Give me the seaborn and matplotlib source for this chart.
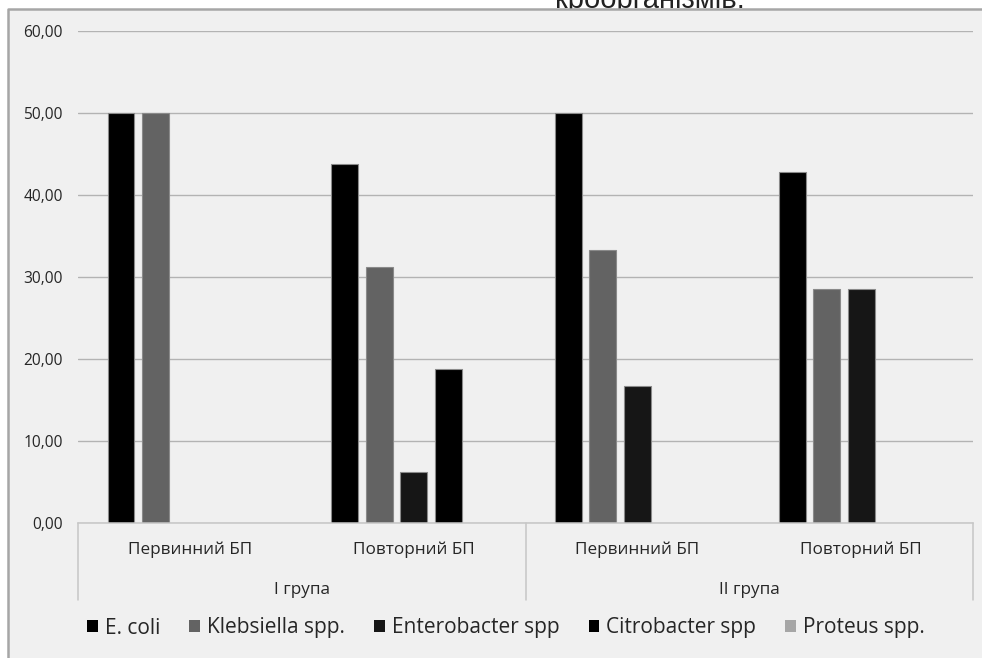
import matplotlib
matplotlib.use("Agg")
import matplotlib.pyplot as plt
import matplotlib.patches as mpatches
from matplotlib.lines import Line2D
from matplotlib.ticker import FuncFormatter, MultipleLocator
import seaborn as sns
import pandas as pd

# ---- data -------------------------------------------------------------
groups = ["I група", "II група"]
subcats = ["Первинний БП", "Повторний БП", "Первинний БП", "Повторний БП"]
slot_group = ["I група", "I група", "II група", "II група"]
series = ["E. coli", "Klebsiella spp.", "Enterobacter spp", "Citrobacter spp", "Proteus spp."]
e_coli = [50.00, 43.75, 50.00, 42.86]
klebsiella = [50.00, 31.25, 33.33, 28.57]
enterobacter = [0.00, 6.25, 16.67, 28.57]
citrobacter = [0.00, 18.75, 0.00, 0.00]
proteus = [0.00, 0.00, 0.00, 0.00]
colors = ["#000000", "#636363", "#161616", "#000000", "#a6a6a6"]

values = [e_coli, klebsiella, enterobacter, citrobacter, proteus]
slots = [f"{g} / {s}" for g, s in zip(slot_group, subcats)]
rows = []
for name, vals in zip(series, values):
    for slot, v in zip(slots, vals):
        rows.append({"slot": slot, "series": name, "value": v})
df = pd.DataFrame(rows)

# ---- figure -----------------------------------------------------------
sns.set_theme(style="white")
plt.rcParams["font.family"] = ["Open Sans", "DejaVu Sans"]
text_color = "#262626"

W, H = 982, 658
fig = plt.figure(figsize=(W / 100, H / 100), dpi=100, facecolor="white")

# heading line above the chart frame (mostly hidden behind it)
fig.text(650 / W, 1 - 8 / H, "кроорганізмів.", ha="center", va="baseline",
         fontsize=21, family=["Liberation Sans", "DejaVu Sans"],
         color="#222222", zorder=0.5)

# chart frame: filled area with a border on the top and left sides
top = 1 - 9 / H
frame = mpatches.Rectangle((8 / W, 0.0), 1.0 - 8 / W, top,
                           transform=fig.transFigure, facecolor="#f0f0f0",
                           edgecolor="none", linewidth=0, zorder=1)
fig.patches.append(frame)
border = Line2D([8 / W, 8 / W, 1.0], [0.0, top, top],
                transform=fig.transFigure, color="#a6a6a6", linewidth=1.8,
                zorder=1.1)
fig.lines.append(border)

ax_left, ax_right = 78 / W, 973 / W
ax_bottom, ax_top = (H - 523) / H, (H - 31) / H
ax = fig.add_axes([ax_left, ax_bottom, ax_right - ax_left, ax_top - ax_bottom])
ax.set_zorder(2)
ax.patch.set_visible(False)

sns.barplot(data=df, x="slot", y="value", hue="series", order=slots,
            hue_order=series, palette=colors, width=0.77, gap=0.22,
            edgecolor="#8a8a8a", linewidth=0.8, saturation=1,
            legend=False, ax=ax)

# zero-height bars leave no visible mark
for p in ax.patches:
    if p.get_height() == 0:
        p.set_visible(False)

ax.set_xlim(-0.5, 3.5)
ax.set_ylim(0, 60)
ax.yaxis.set_major_locator(MultipleLocator(10))
ax.yaxis.set_major_formatter(FuncFormatter(lambda v, _: f"{v:.2f}".replace(".", ",")))
ax.yaxis.grid(True, color="#b3b3b3", linewidth=1)
ax.set_axisbelow(True)
for side in ["left", "right", "top"]:
    ax.spines[side].set_visible(False)
ax.spines["bottom"].set_color("#c6c6c6")
ax.spines["bottom"].set_linewidth(1.1)
ax.tick_params(axis="y", length=0, pad=11, labelsize=11.2, labelcolor=text_color)
ax.set_xticks(range(len(slots)))
ax.set_xticklabels([""] * len(slots))
ax.tick_params(axis="x", length=0)
ax.set_xlabel("")
ax.set_ylabel("")

# two-level category axis
xt = ax.get_xaxis_transform()
px = 1 / (523 - 31)
for i, s in enumerate(subcats):
    ax.text(i, -(554 - 523) * px, s, transform=xt, ha="center", va="baseline",
            fontsize=12.3, color=text_color)
for gi, g in enumerate(groups):
    ax.text(gi * 2 + 0.5, -(594 - 523) * px, g, transform=xt, ha="center",
            va="baseline", fontsize=12.3, color=text_color)
for xb in [-0.5, 1.5, 3.5]:
    ax.plot([xb, xb], [0, -(600 - 523) * px], transform=xt, color="#c6c6c6",
            linewidth=1.1, clip_on=False)

# legend
handles = [mpatches.Patch(facecolor=c, edgecolor="none") for c in colors]
fig.legend(handles, series, loc="center", bbox_to_anchor=(506 / W, (H - 628) / H),
           ncol=5, frameon=False, fontsize=15, handlelength=0.5, handleheight=0.5,
           handletextpad=0.35, columnspacing=1.4, labelcolor=text_color)

fig.savefig("out.png", dpi=100, facecolor="white")
